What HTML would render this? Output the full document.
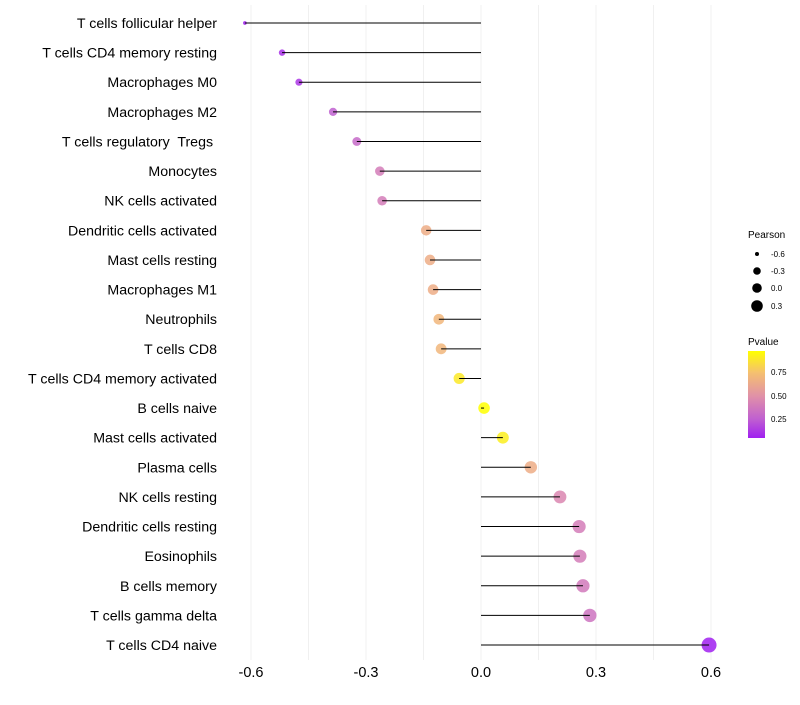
<!DOCTYPE html>
<html><head><meta charset="utf-8"><style>
body{margin:0;background:#fff;font-family:"Liberation Sans",sans-serif}
text{white-space:pre}
</style></head><body>
<svg id="chart" width="800" height="700" font-family="Liberation Sans, sans-serif">
<defs><linearGradient id="pg" x1="0" y1="1" x2="0" y2="0">
<stop offset="0" stop-color="#A020F0"/><stop offset="0.22" stop-color="#C060D0"/><stop offset="0.48" stop-color="#E090A8"/><stop offset="0.75" stop-color="#F5C070"/><stop offset="1" stop-color="#FFFF00"/></linearGradient></defs>
<g id="grid"></g><g id="marks"></g><g id="labels"></g><g id="ticks"></g>
<g>
<text x="748" y="238" font-size="10">Pearson</text>
<circle cx="757" cy="254" r="2" fill="#000"/><text x="771" y="257" font-size="8">-0.6</text>
<circle cx="757" cy="271" r="3.8" fill="#000"/><text x="771" y="274" font-size="8">-0.3</text>
<circle cx="757" cy="288" r="4.8" fill="#000"/><text x="771" y="291" font-size="8">0.0</text>
<circle cx="757" cy="306" r="5.8" fill="#000"/><text x="771" y="309" font-size="8">0.3</text>
<text x="748" y="345" font-size="10">Pvalue</text>
<rect x="748" y="351" width="17" height="87" fill="url(#pg)"/>
<text x="771" y="375" font-size="8">0.75</text><text x="771" y="399" font-size="8">0.50</text><text x="771" y="422" font-size="8">0.25</text>
</g>
</svg>
<script>
const categories=["T cells follicular helper","T cells CD4 memory resting","Macrophages M0","Macrophages M2","T cells regulatory  Tregs ","Monocytes","NK cells activated","Dendritic cells activated","Mast cells resting","Macrophages M1","Neutrophils","T cells CD8","T cells CD4 memory activated","B cells naive","Mast cells activated","Plasma cells","NK cells resting","Dendritic cells resting","Eosinophils","B cells memory","T cells gamma delta","T cells CD4 naive"];
const pearson=[-0.616,-0.519,-0.475,-0.386,-0.324,-0.264,-0.258,-0.143,-0.133,-0.125,-0.110,-0.104,-0.057,0.008,0.057,0.130,0.206,0.256,0.258,0.266,0.284,0.595];
const pvalue=[0.05,0.1,0.12,0.25,0.3,0.4,0.4,0.65,0.65,0.65,0.7,0.7,0.9,0.98,0.92,0.65,0.45,0.4,0.4,0.38,0.35,0.05];
const xTicks=[-0.6,-0.3,0.0,0.3,0.6];
const tickLabels=["-0.6","-0.3","0.0","0.3","0.6"];
const gridVals=[-0.6,-0.45,-0.3,-0.15,0,0.15,0.3,0.45,0.6];
const NS="http://www.w3.org/2000/svg";
const x=v=>481+v*383.3;
const y=i=>23+i*29.62;
const rad=v=>1.5+6*Math.sqrt(Math.max(0,(v+0.62)/1.22));
const stops=[[0.05,[160,32,240]],[0.25,[192,96,208]],[0.5,[224,144,168]],[0.75,[245,192,112]],[0.98,[255,255,0]]];
function col(p){p=Math.max(0.05,Math.min(0.98,p));for(let k=0;k<stops.length-1;k++){const a=stops[k],b=stops[k+1];if(p<=b[0]){const t=(p-a[0])/(b[0]-a[0]);return "rgb("+a[1].map((c,j)=>Math.round(c+(b[1][j]-c)*t)).join(",")+")";}}return "rgb(255,255,0)";}
function mk(t,at,parent){const e=document.createElementNS(NS,t);for(const k in at)e.setAttribute(k,at[k]);document.getElementById(parent).appendChild(e);return e;}
gridVals.forEach(v=>{const l=mk("line",{x1:x(v),x2:x(v),y1:5,y2:660,stroke:"#f0f0f0","stroke-width":1},"grid");

});
xTicks.forEach((v,i)=>{const t=mk("text",{x:x(v),y:677,"font-size":14.5,"text-anchor":"middle",fill:"#000"},"ticks");t.textContent=tickLabels[i];

});
categories.forEach((c,i)=>{
const t=mk("text",{x:217,y:y(i)+5,"font-size":14.2,"text-anchor":"end",fill:"#000"},"labels");t.textContent=c;


const p=mk("circle",{cx:x(pearson[i]),cy:y(i),r:rad(pearson[i]),fill:col(pvalue[i]),"fill-opacity":0.85},"marks");


const l=mk("line",{x1:x(0),x2:x(pearson[i]),y1:y(i),y2:y(i),stroke:"#000","stroke-width":1},"marks");


});
</script>
</body></html>
